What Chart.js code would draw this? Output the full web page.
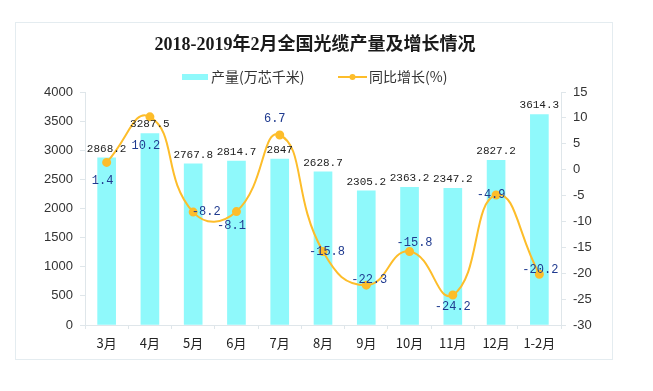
<!DOCTYPE html>
<html>
<head>
<meta charset="utf-8">
<script src="https://cdn.jsdelivr.net/npm/chart.js@4/dist/chart.umd.min.js"></script>
<style>
  html, body { margin: 0; padding: 0; background: #ffffff; }
  body { width: 653px; height: 391px; position: relative; overflow: hidden; }
  #frame { position: absolute; left: 15px; top: 22px; width: 598px; height: 338px; border: 1px solid #e4ecf0; box-sizing: border-box; }
  #wrap { position: absolute; left: 0; top: 0; width: 630px; height: 391px; }
</style>
</head>
<body>
<div id="frame"></div>
<div id="wrap"><canvas id="c" width="630" height="391"></canvas></div>
<script>
const categories = ['3月', '4月', '5月', '6月', '7月', '8月', '9月', '10月', '11月', '12月', '1-2月'];
const output = [2868.2, 3287.5, 2767.8, 2814.7, 2847, 2628.7, 2305.2, 2363.2, 2347.2, 2827.2, 3614.3];
const growth = [1.4, 10.2, -8.2, -8.1, 6.7, -15.8, -22.3, -15.8, -24.2, -4.9, -20.2];
const outputTicks = [0, 500, 1000, 1500, 2000, 2500, 3000, 3500, 4000];
const growthTicks = [-30, -25, -20, -15, -10, -5, 0, 5, 10, 15];
const titleText = '2018-2019年2月全国光缆产量及增长情况';
const seriesNames = ['产量(万芯千米)', '同比增长(%)'];

const BAR_COLOR = '#8ff9fb';
const LINE_COLOR = '#fdbd2a';
const LABEL_BLUE = '#1f3a8f';
const CJK = '"Noto Sans CJK SC", "Noto Sans", sans-serif';

// placement of the growth labels relative to their points (dx, dy in px)
const growthLabelOffsets = [[-4, 18], [-4, 29], [13, 0], [-5, 14], [-5, -16], [4, 0], [3, -5], [5, -9], [0, 12], [-5, 0], [1, -4]];

const decorPlugin = {
  id: 'decor',
  afterDraw(chart) {
    const ctx = chart.ctx;
    ctx.save();
    // title
    ctx.fillStyle = '#1a1a1a';
    ctx.font = 'bold 18px "Liberation Serif", "Noto Sans CJK SC", serif';
    ctx.textAlign = 'center';
    ctx.textBaseline = 'middle';
    ctx.fillText(titleText, 315, 45);
    // legend
    ctx.fillStyle = BAR_COLOR;
    ctx.fillRect(182, 74, 26, 6);
    ctx.font = '14px ' + CJK;
    ctx.fillStyle = '#333';
    ctx.textAlign = 'left';
    ctx.fillText(seriesNames[0], 211, 77);
    ctx.strokeStyle = LINE_COLOR;
    ctx.lineWidth = 2;
    ctx.beginPath(); ctx.moveTo(338, 77); ctx.lineTo(367, 77); ctx.stroke();
    ctx.fillStyle = LINE_COLOR;
    ctx.beginPath(); ctx.arc(352.5, 77, 3, 0, Math.PI * 2); ctx.fill();
    ctx.fillStyle = '#333';
    ctx.fillText(seriesNames[1], 369, 77);

    // bar value labels
    const barMeta = chart.getDatasetMeta(0);
    ctx.font = '11px "Liberation Mono", "DejaVu Sans Mono", monospace';
    ctx.fillStyle = '#222';
    ctx.textAlign = 'center';
    ctx.textBaseline = 'middle';
    barMeta.data.forEach((el, i) => {
      ctx.fillText(String(output[i]), el.x, el.y - 9);
    });
    // line value labels
    const lineMeta = chart.getDatasetMeta(1);
    ctx.font = '12px "Liberation Mono", "DejaVu Sans Mono", monospace';
    ctx.fillStyle = LABEL_BLUE;
    lineMeta.data.forEach((el, i) => {
      const o = growthLabelOffsets[i];
      ctx.fillText(String(growth[i]), el.x + o[0], el.y + o[1]);
    });
    ctx.restore();
  }
};

new Chart(document.getElementById('c'), {
  data: {
    labels: categories,
    datasets: [
      {
        type: 'bar',
        label: seriesNames[0],
        data: output,
        backgroundColor: BAR_COLOR,
        barThickness: 18,
        yAxisID: 'y',
        order: 2
      },
      {
        type: 'line',
        label: seriesNames[1],
        data: growth,
        borderColor: LINE_COLOR,
        backgroundColor: LINE_COLOR,
        borderWidth: 2,
        pointRadius: 3.5,
        pointBackgroundColor: LINE_COLOR,
        pointBorderColor: LINE_COLOR,
        tension: 0.5,
        cubicInterpolationMode: 'default',
        yAxisID: 'y1',
        order: 1
      }
    ]
  },
  options: {
    responsive: false,
    animation: false,
    devicePixelRatio: 1,
    layout: { padding: { top: 92, bottom: 26, left: 0, right: 0 } },
    plugins: {
      legend: { display: false },
      title: { display: false },
      tooltip: { enabled: false }
    },
    scales: {
      x: {
        grid: { display: true, drawOnChartArea: false, offset: true, tickLength: 4, color: '#dfe6ea' },
        border: { color: '#dfe6ea' },
        ticks: { color: '#222', font: { family: CJK, size: 13 }, padding: 6, maxRotation: 0, autoSkip: false },
        afterFit(s) { s.height = 40; }
      },
      y: {
        position: 'left',
        min: 0, max: 4000,
        afterBuildTicks(s) { s.ticks = outputTicks.map(v => ({ value: v })); },
        grid: { display: true, drawOnChartArea: false, tickLength: 5, color: '#dfe6ea' },
        border: { color: '#dfe6ea' },
        ticks: { color: '#333', font: { family: '"Liberation Sans", Arial, sans-serif', size: 13 }, padding: 7, callback: v => String(v) },
        afterFit(s) { s.width = 85; }
      },
      y1: {
        position: 'right',
        min: -30, max: 15,
        afterBuildTicks(s) { s.ticks = growthTicks.map(v => ({ value: v })); },
        grid: { display: true, drawOnChartArea: false, tickLength: 5, color: '#dfe6ea' },
        border: { color: '#dfe6ea' },
        ticks: { color: '#333', font: { family: '"Liberation Sans", Arial, sans-serif', size: 13 }, padding: 7, callback: v => String(v) },
        afterFit(s) { s.width = 69; }
      }
    }
  },
  plugins: [decorPlugin]
});
</script>
</body>
</html>
